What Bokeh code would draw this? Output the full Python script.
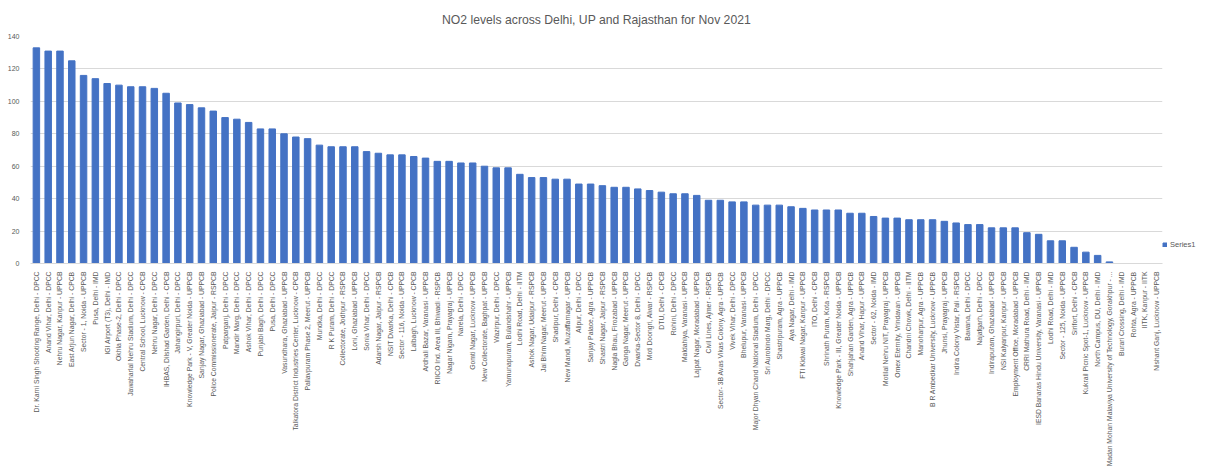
from bokeh.plotting import figure
from bokeh.models import ColumnDataSource, FactorRange, Legend, LegendItem, SingleIntervalTicker
from bokeh.embed import file_html
from bokeh.resources import INLINE
import math

stations = [
    "Dr. Karni Singh Shooting Range, Delhi - DPCC",
    "Anand Vihar, Delhi - DPCC",
    "Nehru Nagar, Kanpur - UPPCB",
    "East Arjun Nagar, Delhi - CPCB",
    "Sector - 1, Noida - UPPCB",
    "Pusa, Delhi - IMD",
    "IGI Airport (T3), Delhi - IMD",
    "Okhla Phase-2, Delhi - DPCC",
    "Jawaharlal Nehru Stadium, Delhi - DPCC",
    "Central School, Lucknow - CPCB",
    "Nehru Nagar, Delhi - DPCC",
    "IHBAS, Dilshad Garden, Delhi - CPCB",
    "Jahangirpuri, Delhi - DPCC",
    "Knowledge Park - V, Greater Noida - UPPCB",
    "Sanjay Nagar, Ghaziabad - UPPCB",
    "Police Commissionerate, Jaipur - RSPCB",
    "Patparganj, Delhi - DPCC",
    "Mandir Marg, Delhi - DPCC",
    "Ashok Vihar, Delhi - DPCC",
    "Punjabi Bagh, Delhi - DPCC",
    "Pusa, Delhi - DPCC",
    "Vasundhara, Ghaziabad - UPPCB",
    "Talkatora District Industries Center, Lucknow - CPCB",
    "Pallavpuram Phase 2, Meerut - UPPCB",
    "Mundka, Delhi - DPCC",
    "R K Puram, Delhi - DPCC",
    "Collectorate, Jodhpur - RSPCB",
    "Loni, Ghaziabad - UPPCB",
    "Sonia Vihar, Delhi - DPCC",
    "Adarsh Nagar, Jaipur - RSPCB",
    "NSIT Dwarka, Delhi - CPCB",
    "Sector - 116, Noida - UPPCB",
    "Lalbagh, Lucknow - CPCB",
    "Ardhali Bazar, Varanasi - UPPCB",
    "RIICO Ind. Area III, Bhiwadi - RSPCB",
    "Nagar Nigam, Prayagraj - UPPCB",
    "Narela, Delhi - DPCC",
    "Gomti Nagar, Lucknow - UPPCB",
    "New Collectorate, Baghpat - UPPCB",
    "Wazirpur, Delhi - DPCC",
    "Yamunapuram, Bulandshahr - UPPCB",
    "Lodhi Road, Delhi - IITM",
    "Ashok Nagar, Udaipur - RSPCB",
    "Jai Bhim Nagar, Meerut - UPPCB",
    "Shadipur, Delhi - CPCB",
    "New Mandi, Muzaffarnagar - UPPCB",
    "Alipur, Delhi - DPCC",
    "Sanjay Palace, Agra - UPPCB",
    "Shastri Nagar, Jaipur - RSPCB",
    "Nagla Bhau, Firozabad - UPPCB",
    "Ganga Nagar, Meerut - UPPCB",
    "Dwarka-Sector 8, Delhi - DPCC",
    "Moti Doongri, Alwar - RSPCB",
    "DTU, Delhi - CPCB",
    "Rohini, Delhi - DPCC",
    "Maldahiya, Varanasi - UPPCB",
    "Lajpat Nagar, Moradabad - UPPCB",
    "Civil Lines, Ajmer - RSPCB",
    "Sector- 3B Avas Vikas Colony, Agra - UPPCB",
    "Vivek Vihar, Delhi - DPCC",
    "Bhelupur, Varanasi - UPPCB",
    "Major Dhyan Chand National Stadium, Delhi - DPCC",
    "Sri Aurobindo Marg, Delhi - DPCC",
    "Shastripuram, Agra - UPPCB",
    "Aya Nagar, Delhi - IMD",
    "FTI Kidwai Nagar, Kanpur - UPPCB",
    "ITO, Delhi - CPCB",
    "Shrinath Puram, Kota - RSPCB",
    "Knowledge Park - III, Greater Noida - UPPCB",
    "Shahjahan Garden, Agra - UPPCB",
    "Anand Vihar, Hapur - UPPCB",
    "Sector - 62, Noida - IMD",
    "Motilal Nehru NIT, Prayagraj - UPPCB",
    "Omex Eternity, Vrindavan - UPPCB",
    "Chandni Chowk, Delhi - IITM",
    "Manoharpur, Agra - UPPCB",
    "B R Ambedkar University, Lucknow - UPPCB",
    "Jhunsi, Prayagraj - UPPCB",
    "Indira Colony Vistar, Pali - RSPCB",
    "Bawana, Delhi - DPCC",
    "Najafgarh, Delhi - DPCC",
    "Indirapuram, Ghaziabad - UPPCB",
    "NSI Kalyanpur, Kanpur - UPPCB",
    "Employment Office, Moradabad - UPPCB",
    "CRRI Mathura Road, Delhi - IMD",
    "IESD Banaras Hindu University, Varanasi - UPPCB",
    "Lodhi Road, Delhi - IMD",
    "Sector - 125, Noida - UPPCB",
    "Sirifort, Delhi - CPCB",
    "Kukrail Picnic Spot-1, Lucknow - UPPCB",
    "North Campus, DU, Delhi - IMD",
    "Madan Mohan Malaviya University of Technology, Gorakhpur - ...",
    "Burari Crossing, Delhi - IMD",
    "Rohta, Agra - UPPCB",
    "IITK, Kanpur - IITK",
    "Nishant Ganj, Lucknow - UPPCB",
]

no2 = [
    133, 131, 131, 125, 116, 114, 111, 110, 109, 109,
    108, 105, 99, 98, 96, 94, 90, 89, 87, 83,
    83, 80, 78, 77, 73, 72, 72, 72, 69, 68,
    67, 67, 66, 65, 63, 63, 62, 62, 60, 59,
    59, 55, 53, 53, 52, 52, 49, 49, 48, 47,
    47, 46, 45, 44, 43, 43, 42, 39, 39, 38,
    38, 36, 36, 36, 35, 34, 33, 33, 33, 31,
    31, 29, 28, 28, 27, 27, 27, 26, 25, 24,
    24, 22, 22, 22, 19, 18, 14, 14, 10, 7,
    5, 1, 0, 0, 0, 0,
]

title_text = "NO2 levels across Delhi, UP and Rajasthan for Nov 2021"
series_name = "Series1"

src = ColumnDataSource(dict(station=stations, value=no2))

p = figure(
    frame_width=1132, frame_height=227,
    x_range=FactorRange(factors=stations, range_padding=0.0),
    y_range=(0, 140),
    output_backend="svg", toolbar_location=None,
    min_border_left=30, min_border_right=0, min_border_top=0, min_border_bottom=0,
)

r = p.vbar(x="station", top="value", width=0.55, source=src, color="#4472C4")

p.title.text = title_text
p.title.align = "center"
p.title.text_font = "Liberation Sans"
p.title.text_font_size = "12.2px"
p.title.text_font_style = "normal"
p.title.text_color = "#595959"
p.title.standoff = 20
p.title.offset = 0

p.outline_line_color = None
p.background_fill_color = "white"
p.border_fill_color = "white"

p.yaxis.ticker = SingleIntervalTicker(interval=20)
p.yaxis.axis_line_color = None
p.yaxis.major_tick_line_color = None
p.yaxis.minor_tick_line_color = None
p.yaxis.major_label_text_font = "Liberation Sans"
p.yaxis.major_label_text_font_size = "7px"
p.yaxis.major_label_text_color = "#595959"

p.xaxis.axis_line_color = "#d9d9d9"
p.xaxis.major_tick_line_color = None
p.xaxis.minor_tick_line_color = None
p.xaxis.major_label_orientation = math.pi / 2
p.xaxis.major_label_text_font = "Liberation Sans"
p.xaxis.major_label_text_font_size = "6.8px"
p.xaxis.major_label_text_color = "#595959"
p.xaxis.major_label_standoff = 2

p.xgrid.grid_line_color = None
p.ygrid.grid_line_color = "#d9d9d9"

legend = Legend(items=[LegendItem(label=series_name, renderers=[r])],
                location=(0, 14), border_line_color=None,
                background_fill_alpha=0, label_text_font_size="7.5px",
                label_text_font="Liberation Sans", label_text_color="#595959",
                glyph_width=5, glyph_height=5, padding=2, margin=2,
                label_standoff=3, label_height=8)
p.add_layout(legend, "right")

open("out.html", "w").write(file_html(p, INLINE))
